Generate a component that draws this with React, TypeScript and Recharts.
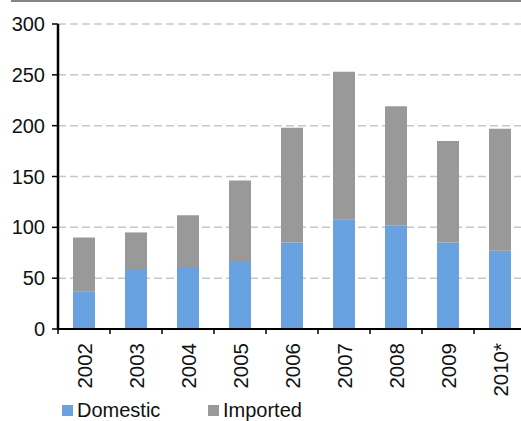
import React from 'react';
import { BarChart, Bar, XAxis, YAxis, CartesianGrid, Legend } from 'recharts';

const years = ['2002', '2003', '2004', '2005', '2006', '2007', '2008', '2009', '2010*'];
const domestic = [37, 58, 61, 66, 85, 108, 102, 85, 77];
const imported = [53, 37, 51, 80, 113, 145, 117, 100, 120];
const yTicks = [0, 50, 100, 150, 200, 250, 300];

const seriesNames = { domestic: 'Domestic', imported: 'Imported' };
const colors = { domestic: '#69a2e0', imported: '#999999' };

const data = years.map((year, i) => ({
  year,
  domestic: domestic[i],
  imported: imported[i],
}));

const FONT = '"Liberation Sans", Arial, sans-serif';
const BAND = 52;

// labels are rotated; the tick marks sit between categories, not under them
function YearTick({ x, y, payload }: any) {
  const ty = y + 6;
  return (
    <g>
      <line x1={x - BAND / 2} x2={x - BAND / 2} y1={y - 8} y2={y - 3} stroke="#000" strokeWidth={1.5} />
      <text
        x={x}
        y={ty}
        transform={`rotate(-90, ${x}, ${ty})`}
        textAnchor="end"
        dominantBaseline="central"
        fontSize={20.5}
        fontFamily={FONT}
        fill="#111"
      >
        {payload.value}
      </text>
    </g>
  );
}

function LegendContent() {
  const items = [
    { key: 'domestic', x: 62 },
    { key: 'imported', x: 208 },
  ];
  return (
    <svg width={521} height={26} style={{ overflow: 'visible', display: 'block' }}>
      {items.map(it => (
        <g key={it.key}>
          <rect x={it.x} y={10} width={11} height={11} fill={colors[it.key]} />
          <text x={it.x + 15} y={15} dominantBaseline="central" fontSize={20} fontFamily={FONT} fill="#111">
            {seriesNames[it.key]}
          </text>
        </g>
      ))}
    </svg>
  );
}

export default function App() {
  return (
    <div style={{ position: 'absolute', left: 0, top: 0, width: 521, height: 421, overflow: 'hidden', background: '#fff' }}>
      <div style={{ position: 'absolute', left: 11, top: 0, width: 510, height: 2, background: '#858585' }} />
      <BarChart
        width={540}
        height={421}
        data={data}
        margin={{ top: 24, right: 14, left: 0, bottom: 0 }}
        barSize={22}
      >
        <CartesianGrid vertical={false} stroke="#c8c8c8" strokeDasharray="8 4" strokeWidth={1.5} />
        <XAxis
          dataKey="year"
          height={66}
          interval={0}
          tick={<YearTick />}
          tickSize={6}
          tickMargin={2}
          tickLine={{ stroke: 'none' }}
          axisLine={{ stroke: '#000', strokeWidth: 2 }}
        />
        <YAxis
          domain={[0, 300]}
          ticks={yTicks}
          width={58}
          tickSize={6}
          tickMargin={7}
          tick={{ fontSize: 20, fontFamily: FONT, fill: '#111' }}
          tickLine={{ stroke: '#000', strokeWidth: 1.5 }}
          axisLine={{ stroke: '#000', strokeWidth: 2.5 }}
        />
        <Legend
          verticalAlign="bottom"
          content={<LegendContent />}
          height={26}
          wrapperStyle={{ left: 0, top: 395, bottom: 'auto', width: 521, height: 26 }}
        />
        <Bar dataKey="domestic" stackId="a" fill={colors.domestic} isAnimationActive={false} />
        <Bar dataKey="imported" stackId="a" fill={colors.imported} isAnimationActive={false} />
      </BarChart>
    </div>
  );
}
